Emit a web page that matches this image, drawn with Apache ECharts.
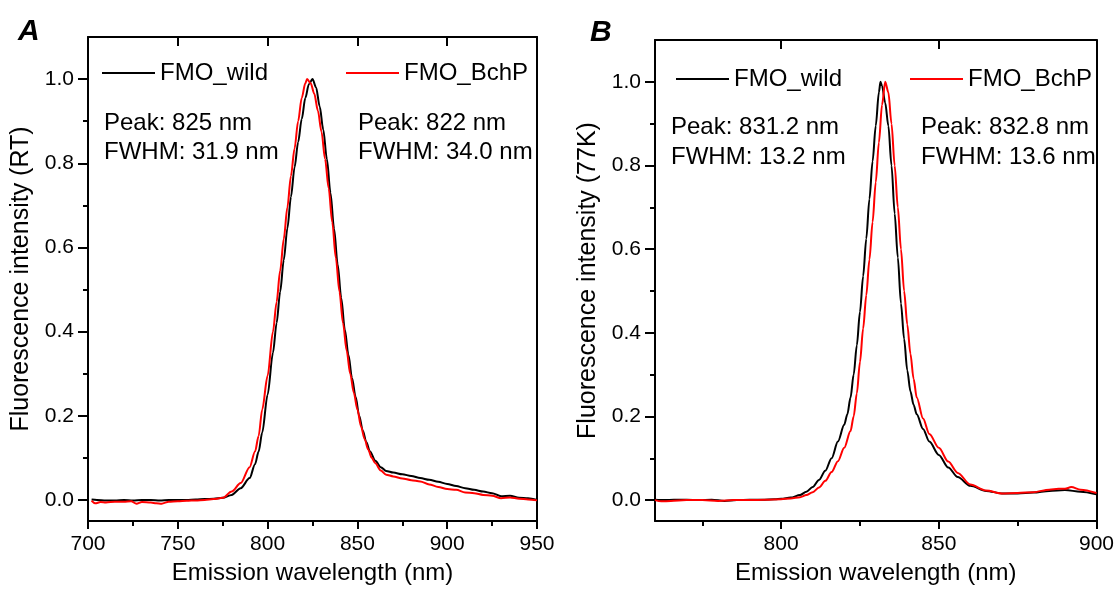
<!DOCTYPE html>
<html>
<head>
<meta charset="utf-8">
<script src="https://cdn.jsdelivr.net/npm/echarts@6/dist/echarts.min.js"></script>
<style>
  html, body { margin: 0; padding: 0; background: #fff; }
  #chart { width: 1117px; height: 590px; }
</style>
</head>
<body>
<div id="chart"></div>
<script>
// Panel A: room temperature spectra
const aWildX = [702, 705, 710, 715, 720, 725, 730, 735, 740, 745, 750, 755, 760, 765, 770, 775, 780, 785, 790, 793, 795, 797, 800, 803, 805, 807, 809, 811, 813, 815, 817, 819, 821, 823, 825, 827, 829, 831, 833, 835, 837, 839, 841, 843, 845, 847, 849, 851, 853, 855, 857, 860, 863, 866, 870, 875, 880, 885, 890, 895, 900, 905, 910, 915, 920, 925, 930, 935, 940, 945, 950]
const aWildY = [0.001, 0.0, -0.001, -0.001, 0.0, -0.001, 0.0, 0.0, -0.001, 0.0, 0.0, 0.0, 0.001, 0.002, 0.003, 0.005, 0.012, 0.028, 0.052, 0.085, 0.115, 0.16, 0.25, 0.35, 0.42, 0.495, 0.57, 0.645, 0.72, 0.79, 0.85, 0.905, 0.955, 0.988, 1.0, 0.98, 0.935, 0.88, 0.81, 0.73, 0.645, 0.56, 0.48, 0.405, 0.345, 0.29, 0.245, 0.2, 0.165, 0.137, 0.115, 0.093, 0.078, 0.069, 0.065, 0.061, 0.057, 0.052, 0.048, 0.043, 0.038, 0.033, 0.028, 0.024, 0.02, 0.016, 0.009, 0.01, 0.005, 0.004, 0.0]
const aBchpX = [702, 704, 707, 710, 715, 720, 724, 727, 730, 735, 738, 741, 745, 750, 755, 760, 765, 770, 775, 780, 785, 790, 793, 795, 797, 800, 803, 805, 807, 809, 811, 813, 815, 817, 819, 821, 822, 824, 826, 828, 830, 832, 834, 836, 838, 840, 842, 844, 846, 848, 850, 852, 854, 856, 858, 860, 863, 866, 870, 875, 880, 885, 890, 895, 900, 905, 910, 915, 920, 925, 930, 935, 940, 945, 950]
const aBchpY = [-0.002, -0.008, -0.005, -0.006, -0.004, -0.004, -0.003, -0.009, -0.005, -0.006, -0.008, -0.009, -0.004, -0.003, -0.002, -0.001, 0.0, 0.002, 0.005, 0.02, 0.04, 0.078, 0.115, 0.152, 0.215, 0.295, 0.4, 0.47, 0.545, 0.62, 0.695, 0.77, 0.835, 0.9, 0.955, 0.99, 1.0, 0.99, 0.965, 0.925, 0.875, 0.81, 0.74, 0.66, 0.575, 0.495, 0.42, 0.355, 0.3, 0.255, 0.215, 0.175, 0.145, 0.12, 0.1, 0.087, 0.07, 0.06, 0.056, 0.051, 0.047, 0.044, 0.037, 0.031, 0.026, 0.024, 0.018, 0.016, 0.012, 0.01, 0.004, 0.006, 0.003, 0.001, -0.001]

// Panel B: 77 K spectra
const bWildX = [760, 763, 766, 770, 774, 778, 782, 786, 790, 794, 798, 800, 803, 806, 808, 810, 812, 814, 816, 818, 820, 821, 822, 823, 824, 825, 826, 827, 828, 829, 830, 831, 831.5, 832, 833, 834, 835, 836, 837, 838, 839, 840, 841, 842, 843, 845, 847, 850, 853, 856, 860, 865, 870, 875, 880, 885, 890, 895, 900]
const bWildY = [0.001, 0.0, 0.001, 0.001, 0.0, 0.001, -0.002, 0.0, 0.001, 0.001, 0.002, 0.003, 0.006, 0.012, 0.02, 0.031, 0.048, 0.07, 0.1, 0.14, 0.18, 0.205, 0.245, 0.3, 0.37, 0.45, 0.535, 0.625, 0.72, 0.81, 0.895, 0.975, 1.0, 0.99, 0.95, 0.895, 0.8, 0.685, 0.58, 0.47, 0.385, 0.31, 0.26, 0.228, 0.205, 0.17, 0.14, 0.108, 0.078, 0.055, 0.034, 0.022, 0.016, 0.016, 0.018, 0.022, 0.024, 0.02, 0.014]
const bBchpX = [760, 762, 765, 770, 775, 780, 785, 790, 795, 800, 803, 806, 808, 810, 812, 814, 816, 818, 820, 822, 823, 824, 825, 826, 827, 828, 829, 830, 831, 832, 833, 834, 835, 836, 837, 838, 839, 840, 841, 842, 843, 845, 847, 850, 853, 856, 860, 865, 870, 875, 880, 885, 888, 890, 892, 895, 900]
const bBchpY = [0.0, -0.003, -0.002, 0.0, 0.0, -0.002, 0.0, 0.0, 0.001, 0.002, 0.004, 0.007, 0.012, 0.019, 0.03, 0.046, 0.067, 0.093, 0.125, 0.165, 0.2, 0.255, 0.33, 0.41, 0.49, 0.575, 0.665, 0.76, 0.855, 0.945, 1.0, 0.975, 0.9, 0.8, 0.7, 0.6, 0.5, 0.42, 0.35, 0.29, 0.245, 0.195, 0.158, 0.125, 0.092, 0.065, 0.037, 0.023, 0.016, 0.017, 0.019, 0.025, 0.027, 0.027, 0.031, 0.025, 0.017]

// tick values
const yMajor = [0, 0.2, 0.4, 0.6, 0.8, 1.0]
const yMinor = [0.1, 0.3, 0.5, 0.7, 0.9]
const aXMajor = [700, 750, 800, 850, 900, 950]
const aXMinor = [725, 775, 825, 875, 925]
const bXMajor = [800, 850, 900]
const bXMinor = [775, 825, 875]

const FONT = '"Liberation Sans", Arial, sans-serif'
const AXIS_LINE = { color: '#000', width: 2 }

function zip(xs, ys) {
  return xs.map((x, i) => [x, ys[i]])
}

function xAxes(grid, min, max, major, minor) {
  return [
    {
      gridIndex: grid, type: 'value', min, max, position: 'bottom',
      axisLine: { show: true, onZero: false, lineStyle: AXIS_LINE },
      axisTick: { show: true, length: 8, customValues: major, lineStyle: AXIS_LINE },
      axisLabel: { customValues: major, margin: 13, fontSize: 21, color: '#000', fontFamily: FONT },
      splitLine: { show: false },
      name: 'Emission wavelength (nm)', nameLocation: 'middle', nameGap: 40,
      nameTextStyle: { fontSize: 24, color: '#000', fontFamily: FONT },
    },
    {
      gridIndex: grid, type: 'value', min, max, position: 'bottom',
      axisLine: { show: false, onZero: false },
      axisTick: { show: true, length: 5, customValues: minor, lineStyle: AXIS_LINE },
      axisLabel: { show: false },
      splitLine: { show: false },
    },
    {
      gridIndex: grid, type: 'value', min, max, position: 'top',
      axisLine: { show: true, onZero: false, lineStyle: AXIS_LINE },
      axisTick: { show: true, inside: true, length: 9, customValues: major, lineStyle: AXIS_LINE },
      axisLabel: { show: false },
      splitLine: { show: false },
    },
  ]
}

function yAxes(grid, title) {
  return [
    {
      gridIndex: grid, type: 'value', min: -0.05, max: 1.1, position: 'left',
      axisLine: { show: true, onZero: false, lineStyle: AXIS_LINE },
      axisTick: { show: true, length: 10, customValues: yMajor, lineStyle: AXIS_LINE },
      axisLabel: {
        customValues: yMajor, margin: 14, fontSize: 21, color: '#000', fontFamily: FONT,
        formatter: (v) => Number(v).toFixed(1),
      },
      splitLine: { show: false },
      name: title, nameLocation: 'middle', nameGap: 54,
      nameTextStyle: { fontSize: 25, color: '#000', fontFamily: FONT },
    },
    {
      gridIndex: grid, type: 'value', min: -0.05, max: 1.1, position: 'left',
      axisLine: { show: false, onZero: false },
      axisTick: { show: true, length: 5, customValues: yMinor, lineStyle: AXIS_LINE },
      axisLabel: { show: false },
      splitLine: { show: false },
    },
    {
      gridIndex: grid, type: 'value', min: -0.05, max: 1.1, position: 'right',
      axisLine: { show: true, onZero: false, lineStyle: AXIS_LINE },
      axisTick: { show: false },
      axisLabel: { show: false },
      splitLine: { show: false },
    },
  ]
}

function line(name, color, data, axisIdx) {
  return {
    name, type: 'line', data, xAxisIndex: axisIdx, yAxisIndex: axisIdx,
    showSymbol: false, smooth: 0.3, smoothMonotone: 'x',
    lineStyle: { color, width: 2 }, itemStyle: { color },
    emphasis: { disabled: true }, animation: false,
  }
}

function legendAt(name, left, top) {
  return {
    data: [name], left, top, padding: 0, selectedMode: false,
    icon: 'rect', itemWidth: 53, itemHeight: 2,
    textStyle: { fontSize: 24, color: '#000', fontFamily: FONT },
  }
}

function label(text, x, y, font) {
  return {
    type: 'text', x, y,
    style: { text, font: font || ('24px ' + FONT), fill: '#000', verticalAlign: 'middle' },
  }
}

const chart = echarts.init(document.getElementById('chart'))
chart.setOption({
  animation: false,
  grid: [
    { left: 88, top: 37, width: 449, height: 485 },
    { left: 655, top: 40, width: 444, height: 484 },
  ],
  xAxis: [...xAxes(0, 700, 950, aXMajor, aXMinor), ...xAxes(1, 760, 900, bXMajor, bXMinor)],
  yAxis: [...yAxes(0, 'Fluorescence intensity (RT)'), ...yAxes(1, 'Fluorescence intensity (77K)')],
  legend: [
    legendAt('FMO_wild', 102, 61),
    legendAt('FMO_BchP', 346, 61),
    legendAt('FMO_wild', 676, 67),
    legendAt('FMO_BchP', 910, 67),
  ],
  graphic: [
    label('A', 18, 32, 'italic bold 30px ' + FONT),
    label('B', 590, 33, 'italic bold 30px ' + FONT),
    label('Peak: 825 nm', 104, 123),
    label('FWHM: 31.9 nm', 104, 152),
    label('Peak: 822 nm', 358, 123),
    label('FWHM: 34.0 nm', 358, 152),
    label('Peak: 831.2 nm', 671, 127),
    label('FWHM: 13.2 nm', 671, 157),
    label('Peak: 832.8 nm', 921, 127),
    label('FWHM: 13.6 nm', 921, 157),
  ],
  series: [
    line('FMO_wild', '#000000', zip(aWildX, aWildY), 0),
    line('FMO_BchP', '#ff0000', zip(aBchpX, aBchpY), 0),
    line('FMO_wild', '#000000', zip(bWildX, bWildY), 3),
    line('FMO_BchP', '#ff0000', zip(bBchpX, bBchpY), 3),
  ],
})
</script>
</body>
</html>
